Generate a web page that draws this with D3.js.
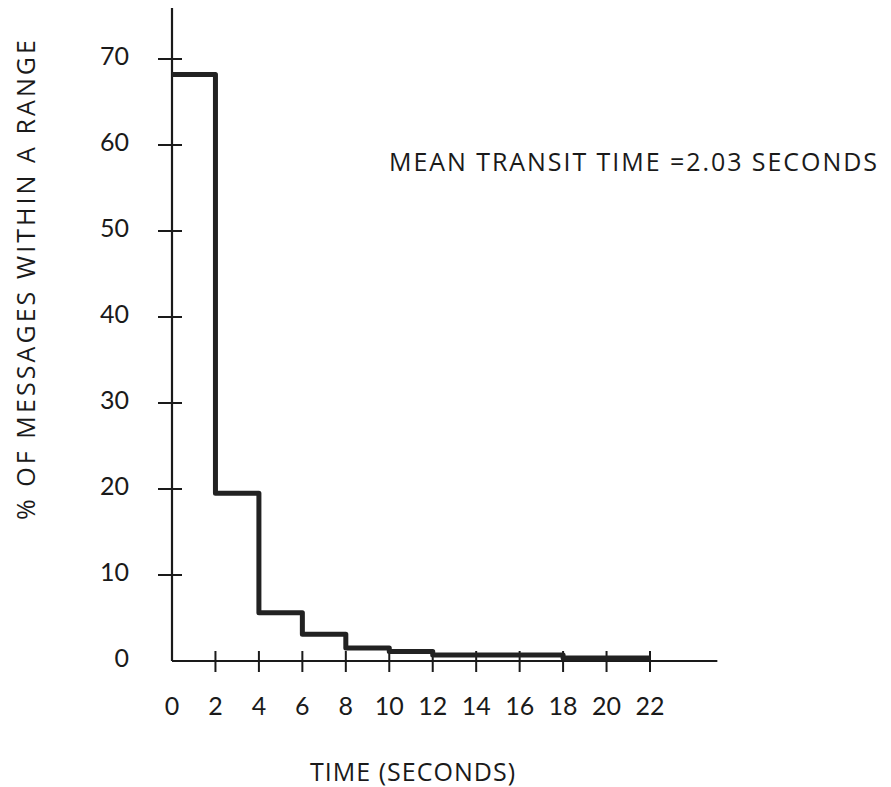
<!DOCTYPE html>
<html><head><meta charset="utf-8">
<script src="https://cdn.jsdelivr.net/npm/d3@7"></script>
<style>body{margin:0;background:#fff}svg{display:block}</style>
</head><body>
<script>
// Data
const binStarts = [0, 2, 4, 6, 8, 10, 12, 18];
const binEnds   = [2, 4, 6, 8, 10, 12, 18, 22];
const percents  = [68.2, 19.5, 5.6, 3.1, 1.5, 1.1, 0.7, 0.35];
const xTicks = [0, 2, 4, 6, 8, 10, 12, 14, 16, 18, 20, 22];
const yTicks = [0, 10, 20, 30, 40, 50, 60, 70];
const annotation = "MEAN TRANSIT TIME =2.03 SECONDS";
const xTitle = "TIME (SECONDS)";
const yTitle = "% OF MESSAGES WITHIN A RANGE";

const W = 891, H = 787;
const svg = d3.select("body").append("svg").attr("width", W).attr("height", H);
const font = "Lato, 'Open Sans', sans-serif";
const tfont = "'Open Sans', Lato, sans-serif";
const ink = "#1a1a1a";

const x = d3.scaleLinear().domain([0, 22]).range([172, 650]);
const y = d3.scaleLinear().domain([0, 70]).range([661, 59]);

// axes lines
svg.append("line").attr("x1", x(0)).attr("x2", x(0)).attr("y1", 8).attr("y2", y(0))
  .attr("stroke", ink).attr("stroke-width", 2.2);
svg.append("line").attr("x1", x(0)).attr("x2", x(25.1)).attr("y1", y(0)).attr("y2", y(0))
  .attr("stroke", ink).attr("stroke-width", 2.2);

// y ticks
svg.selectAll(".yt").data(yTicks.filter(d => d > 0)).join("line")
  .attr("x1", x(0) - 14).attr("x2", x(0) + 10)
  .attr("y1", d => y(d)).attr("y2", d => y(d))
  .attr("stroke", ink).attr("stroke-width", 2);
svg.selectAll(".yl").data(yTicks).join("text")
  .attr("x", 129).attr("y", d => y(d) - 3).attr("dy", "0.36em")
  .attr("text-anchor", "end").attr("font-family", font).attr("font-size", 25)
  .attr("fill", ink).text(d => d);

// x ticks
svg.selectAll(".xt").data(xTicks.filter(d => d > 0)).join("line")
  .attr("x1", d => x(d)).attr("x2", d => x(d))
  .attr("y1", y(0) - 10).attr("y2", y(0) + 11)
  .attr("stroke", ink).attr("stroke-width", 2);
svg.selectAll(".xl").data(xTicks).join("text")
  .attr("x", d => x(d)).attr("y", 715)
  .attr("text-anchor", "middle").attr("font-family", font).attr("font-size", 25)
  .attr("fill", ink).text(d => d);

// step line
const pts = [];
binStarts.forEach((s, i) => {
  pts.push([s, percents[i]]);
  pts.push([binEnds[i], percents[i]]);
});
const line = d3.line().x(d => x(d[0])).y(d => y(d[1]));
svg.append("path").attr("d", line(pts)).attr("fill", "none")
  .attr("stroke", "#222").attr("stroke-width", 5).attr("stroke-linejoin", "round");

// annotation
svg.append("text").attr("x", 389).attr("y", 171).attr("font-family", tfont)
  .attr("font-size", 25).attr("fill", ink)
  .attr("textLength", 488).attr("lengthAdjust", "spacing").text(annotation);

// titles
svg.append("text").attr("x", 310).attr("y", 781)
  .attr("font-family", tfont).attr("font-size", 25).attr("fill", ink)
  .attr("textLength", 205).attr("lengthAdjust", "spacing").text(xTitle);
svg.append("text").attr("transform", "translate(35,520) rotate(-90)")
  .attr("font-family", tfont).attr("font-size", 25)
  .attr("fill", ink).attr("textLength", 480).attr("lengthAdjust", "spacing").text(yTitle);
</script>
</body></html>
